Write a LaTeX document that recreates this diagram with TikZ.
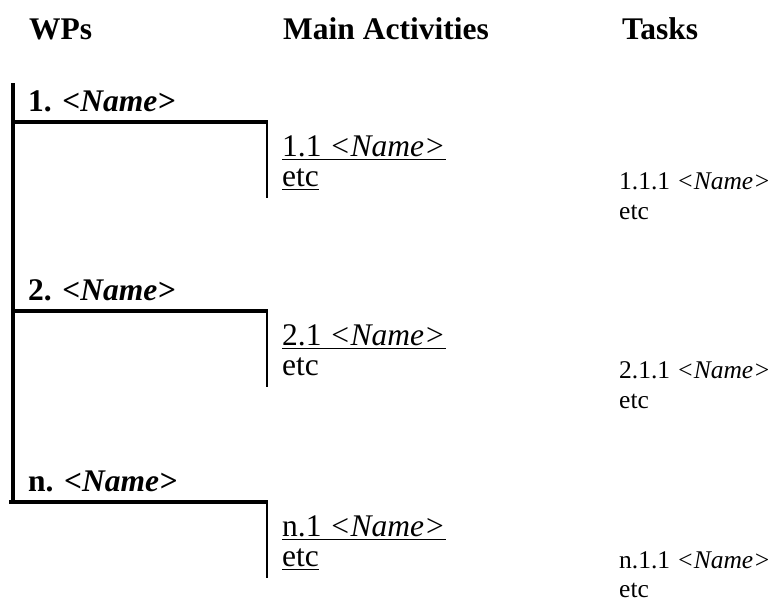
\documentclass[tikz,border=0pt]{standalone}
\usepackage{fontspec}
\setmainfont{Liberation Serif}
\begin{document}
\begin{tikzpicture}[x=1pt,y=-1pt,
  big/.style={anchor=base west, inner sep=0pt, font=\fontsize{31.5}{33}\selectfont},
  bigb/.style={big, font=\fontsize{31.5}{33}\selectfont\bfseries},
  small/.style={anchor=base west, inner sep=0pt, font=\fontsize{25.5}{28}\selectfont},
  spine/.style={line width=4.5pt},
  stem/.style={line width=1.5pt},
  uline/.style={line width=1.3pt}]
\useasboundingbox (0,0) rectangle (771,603);
% headings
\node[bigb] (hwp) at (29,39) {WPs};
\node[bigb] (hma) at (283,39) {Main Activities};
\node[bigb] (hta) at (622,39) {Tasks};
% WP labels
\node[bigb] (w1) at (28,111) {1. \textit{<Name>}};
\node[bigb] (w2) at (28,300) {2. \textit{<Name>}};
\node[bigb] (wn) at (28,491) {n. \textit{<Name>}};
% tree lines
\coordinate (top) at (13,83);
\coordinate (b1l) at (13,122);  \coordinate (b1r) at (268,122);
\coordinate (b2l) at (13,311);  \coordinate (b2r) at (268,311);
\coordinate (bnl) at (9,502);   \coordinate (bnr) at (268,502);
\coordinate (bot) at (13,504);
\coordinate (s1t) at (267,122); \coordinate (s1b) at (267,198);
\coordinate (s2t) at (267,311); \coordinate (s2b) at (267,387);
\coordinate (snt) at (267,502); \coordinate (snb) at (267,578);
\draw[spine] (top) -- (bot);
\draw[spine] (b1l) -- (b1r);
\draw[spine] (b2l) -- (b2r);
\draw[spine] (bnl) -- (bnr);
\draw[stem] (s1t) -- (s1b);
\draw[stem] (s2t) -- (s2b);
\draw[stem] (snt) -- (snb);
% activities
\node[big] (a1) at (282,156) {1.1 \textit{<Name>}};
\node[big] (e1) at (282,186) {etc};
\node[big] (a2) at (282,345) {2.1 \textit{<Name>}};
\node[big] (e2) at (282,375) {etc};
\node[big] (an) at (282,536) {n.1 \textit{<Name>}};
\node[big] (en) at (282,566) {etc};
\foreach \n in {a1,e1,a2,an,en}
  \draw[uline] ([yshift=-3.5pt]\n.base west) -- ([yshift=-3.5pt]\n.base east);
% tasks
\node[small] (t1) at (619,189) {1.1.1 \textit{<Name>}};
\node[small] (f1) at (619,219) {etc};
\node[small] (t2) at (619,378) {2.1.1 \textit{<Name>}};
\node[small] (f2) at (619,408) {etc};
\node[small] (tn) at (619,568) {n.1.1 \textit{<Name>}};
\node[small] (fn) at (619,597) {etc};
\end{tikzpicture}
\end{document}
